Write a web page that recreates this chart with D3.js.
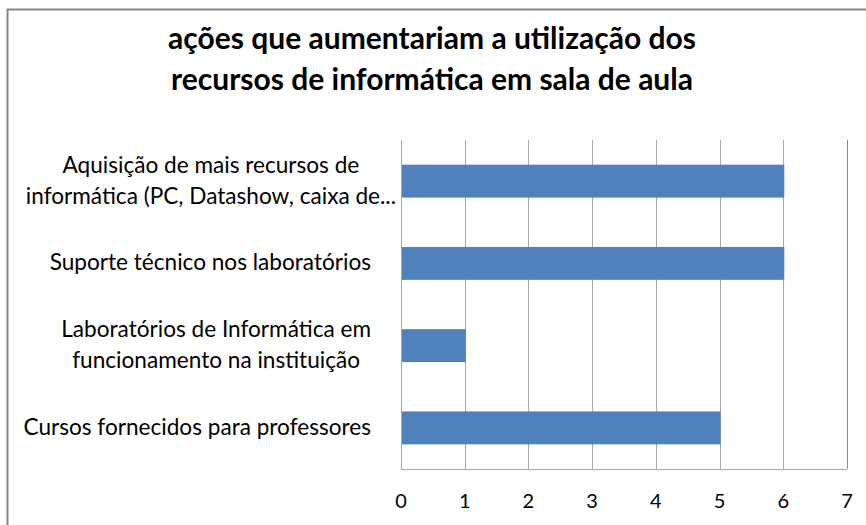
<!DOCTYPE html>
<meta charset="utf-8">
<style>
body { margin: 0; background: #fff; }
text { font-family: Lato, "Open Sans", sans-serif; fill: #000; }
.grid line { stroke: #a6a6a6; stroke-width: 1px; }
.bar { fill: #4f81bd; }
</style>
<body>
<script src="https://d3js.org/d3.v7.min.js"></script>
<script>
// chart data
var categories = [
    ["Aquisição de mais recursos de", "informática (PC, Datashow, caixa de..."],
    ["Suporte técnico nos laboratórios"],
    ["Laboratórios de Informática em", "funcionamento na instituição"],
    ["Cursos fornecidos para professores"]
];
var values = [6, 6, 1, 5];
var xTicks = [0, 1, 2, 3, 4, 5, 6, 7];
var titleLines = ["ações que aumentariam a utilização dos", "recursos de informática em sala de aula"];

var W = 866, H = 525;
var margin = { top: 140, right: 19, bottom: 56, left: 401 },
    width = W - margin.left - margin.right,
    height = H - margin.top - margin.bottom;

var svg = d3.select("body").append("svg")
    .attr("width", W)
    .attr("height", H);

// outer chart border
svg.append("rect")
    .attr("x", 7.5).attr("y", 9.5)
    .attr("width", W).attr("height", H)
    .attr("fill", "none")
    .attr("stroke", "#868686")
    .attr("stroke-width", 2);

// title
svg.append("g").selectAll("text")
    .data(titleLines)
    .enter().append("text")
    .attr("x", 432)
    .attr("y", function(d, i) { return 49 + i * 41; })
    .attr("text-anchor", "middle")
    .style("font-size", "30px")
    .style("font-weight", "bold")
    .text(function(d) { return d; });

var g = svg.append("g")
    .attr("transform", "translate(" + margin.left + "," + margin.top + ")");

var x = d3.scaleLinear().domain([0, 7]).range([0, width]);
var y = d3.scaleBand().domain(d3.range(categories.length)).range([0, height])
    .paddingInner(0.6).paddingOuter(0.3);

// vertical gridlines
g.append("g").attr("class", "grid")
    .selectAll("line")
    .data(xTicks)
    .enter().append("line")
    .attr("x1", function(d) { return Math.round(x(d)) + 0.5; })
    .attr("x2", function(d) { return Math.round(x(d)) + 0.5; })
    .attr("y1", 0)
    .attr("y2", height)
    .style("stroke", function(d, i) { return i === xTicks.length - 1 ? "#8c8c8c" : null; });

// bottom axis line
g.append("g").attr("class", "grid")
    .append("line")
    .attr("x1", 0).attr("x2", width)
    .attr("y1", height + 0.5).attr("y2", height + 0.5);

// bars
g.selectAll(".bar")
    .data(values)
    .enter().append("rect")
    .attr("class", "bar")
    .attr("x", x(0) + 1)
    .attr("y", function(d, i) { return y(i); })
    .attr("width", function(d) { return x(d) - x(0); })
    .attr("height", y.bandwidth());

// x tick labels
g.selectAll(".xtick")
    .data(xTicks)
    .enter().append("text")
    .attr("class", "xtick")
    .attr("x", function(d) { return x(d); })
    .attr("y", height + 39)
    .attr("text-anchor", "middle")
    .style("font-size", "20px")
    .text(function(d) { return d; });

// category labels, lines centred in a block right-aligned to the axis
var lineH = 31;
categories.forEach(function(lines, i) {
    var cy = y(i) + y.bandwidth() / 2;
    var grp = g.append("g");
    var texts = grp.selectAll("text")
        .data(lines)
        .enter().append("text")
        .attr("y", function(d, j) { return cy + (j - (lines.length - 1) / 2) * lineH + 7; })
        .attr("text-anchor", "middle")
        .style("font-size", "22.6px")
        .text(function(d) { return d; });
    var maxW = d3.max(texts.nodes(), function(n) { return n.getComputedTextLength(); });
    var right = /\.\.\.$/.test(lines[lines.length - 1]) ? -5 : -30;
    texts.attr("x", right - maxW / 2);
});
</script>
</body>
